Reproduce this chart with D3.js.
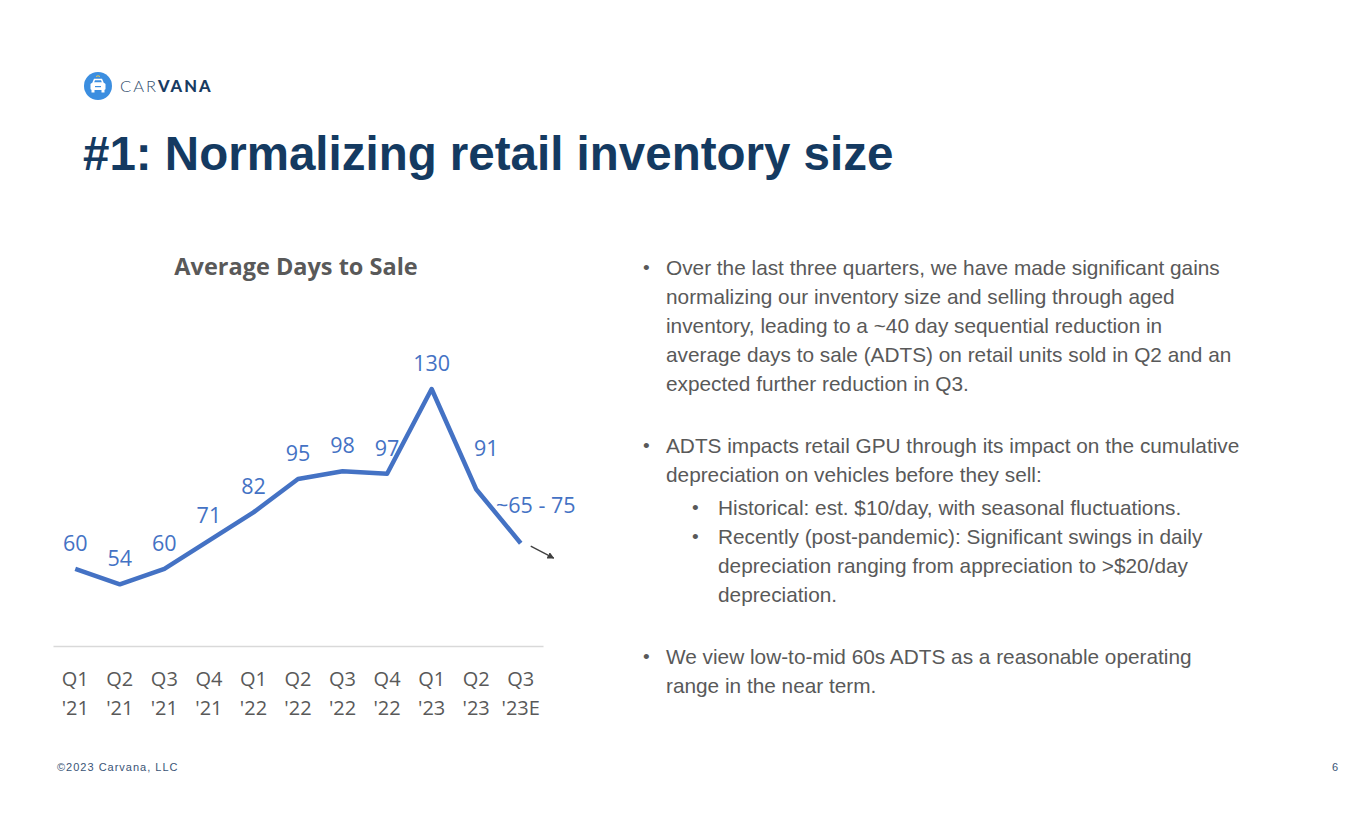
<!DOCTYPE html>
<html lang="en">
<head>
<meta charset="UTF-8">
<title>Average Days to Sale</title>
<script src="https://cdn.jsdelivr.net/npm/d3@7"></script>
<style>
  body { margin: 0; background: #fff; }
  svg { display: block; }
</style>
</head>
<body>
<script>
// data
var quarters = ["Q1", "Q2", "Q3", "Q4", "Q1", "Q2", "Q3", "Q4", "Q1", "Q2", "Q3"];
var years = ["'21", "'21", "'21", "'21", "'22", "'22", "'22", "'22", "'23", "'23", "'23E"];
var adts = [60, 54, 60, 71, 82, 95, 98, 97, 130, 91, 70];
var adtsLabels = ["60", "54", "60", "71", "82", "95", "98", "97", "130", "91", "~65 - 75"];

var bullets = [
  { level: 1, lines: ["Over the last three quarters, we have made significant gains",
    "normalizing our inventory size and selling through aged",
    "inventory, leading to a ~40 day sequential reduction in",
    "average days to sale (ADTS) on retail units sold in Q2 and an",
    "expected further reduction in Q3."] },
  { level: 1, lines: ["ADTS impacts retail GPU through its impact on the cumulative",
    "depreciation on vehicles before they sell:"] },
  { level: 2, lines: ["Historical: est. $10/day, with seasonal fluctuations."] },
  { level: 2, lines: ["Recently (post-pandemic): Significant swings in daily",
    "depreciation ranging from appreciation to >$20/day",
    "depreciation."] },
  { level: 1, lines: ["We view low-to-mid 60s ADTS as a reasonable operating",
    "range in the near term."] }
];

var width = 1365, height = 829;
var svg = d3.select("body").append("svg")
  .attr("width", width)
  .attr("height", height);

// logo
var logo = svg.append("g").attr("transform", "translate(98,86)");
logo.append("circle").attr("r", 14).attr("fill", "#3b8ee0");
logo.append("path")
  .attr("d", "M-5,-3 L-3.5,-6.5 L3.5,-6.5 L5,-3 Z")
  .attr("fill", "none").attr("stroke", "#fff").attr("stroke-width", 1.6);
logo.append("rect").attr("x", -7.5).attr("y", -3).attr("width", 15).attr("height", 7)
  .attr("rx", 1.5).attr("fill", "#fff");
logo.append("rect").attr("x", -6.5).attr("y", 4).attr("width", 3).attr("height", 2.5).attr("fill", "#fff");
logo.append("rect").attr("x", 3.5).attr("y", 4).attr("width", 3).attr("height", 2.5).attr("fill", "#fff");
logo.append("rect").attr("x", -3).attr("y", 0).attr("width", 6).attr("height", 1.2).attr("fill", "#3b8ee0");
logo.append("path").attr("d", "M-2,-9.5 Q0,-11 2,-9.5").attr("fill", "none")
  .attr("stroke", "#f3c84b").attr("stroke-width", 1);

var brand = svg.append("text")
  .attr("x", 120).attr("y", 92)
  .style("font-family", "Lato, 'Open Sans', sans-serif")
  .style("font-size", "16.5px")
  .style("letter-spacing", "2px");
brand.append("tspan").text("CAR").attr("fill", "#36506f").style("font-weight", 300);
brand.append("tspan").text("VANA").attr("fill", "#183b62").style("font-weight", 900);

// slide title
svg.append("text")
  .attr("x", 83).attr("y", 170)
  .attr("fill", "#143a61")
  .style("font-family", "'Liberation Sans', Arial, sans-serif")
  .style("font-weight", "bold")
  .style("font-size", "47.5px")
  .text("#1: Normalizing retail inventory size");

// chart
var x = d3.scaleBand().domain(d3.range(quarters.length)).range([53, 543]);
var y = d3.scaleLinear().domain([30, 130]).range([646, 389]);
var cx = function(i) { return x(i) + x.bandwidth() / 2; };

svg.append("text")
  .attr("x", 296).attr("y", 275)
  .attr("text-anchor", "middle")
  .attr("fill", "#595959")
  .style("font-family", "'Open Sans', sans-serif")
  .style("font-weight", "bold")
  .style("font-size", "23.5px")
  .text("Average Days to Sale");

var axis = svg.append("g")
  .attr("transform", "translate(0," + y(30) + ")")
  .call(d3.axisBottom(x).tickSize(0).tickFormat(""));
axis.select(".domain").attr("stroke", "#d9d9d9").attr("stroke-width", 1.5);

var tick = svg.append("g").selectAll("text")
  .data(quarters)
  .enter()
  .append("text")
  .attr("text-anchor", "middle")
  .attr("fill", "#595959")
  .style("font-family", "'Open Sans', sans-serif")
  .style("font-size", "20px");
tick.append("tspan").attr("x", function(d, i) { return cx(i); }).attr("y", 686)
  .text(function(d) { return d; });
tick.append("tspan").attr("x", function(d, i) { return cx(i); }).attr("y", 715)
  .text(function(d, i) { return years[i]; });

var line = d3.line()
  .x(function(d, i) { return cx(i); })
  .y(function(d) { return y(d); });

svg.append("path")
  .datum(adts)
  .attr("d", line)
  .attr("fill", "none")
  .attr("stroke", "#4472c4")
  .attr("stroke-width", 4.5)
  .attr("stroke-linejoin", "round");

// last two labels sit a bit off to the right
var shift = { 9: [10, -33], 10: [15, -30] };
svg.append("g").selectAll("text")
  .data(adts)
  .enter()
  .append("text")
  .attr("x", function(d, i) { return cx(i) + (shift[i] ? shift[i][0] : 0); })
  .attr("y", function(d, i) { return y(d) + (shift[i] ? shift[i][1] : -18); })
  .attr("text-anchor", "middle")
  .attr("fill", "#4472c4")
  .style("font-family", "'Open Sans', sans-serif")
  .style("font-size", "21.5px")
  .text(function(d, i) { return adtsLabels[i]; });

// trend arrow
svg.append("defs").append("marker")
  .attr("id", "head")
  .attr("viewBox", "0 0 10 10")
  .attr("refX", 9).attr("refY", 5)
  .attr("markerWidth", 7).attr("markerHeight", 7)
  .attr("markerUnits", "userSpaceOnUse")
  .attr("orient", "auto")
  .append("path").attr("d", "M0,0 L10,5 L0,10 Z").attr("fill", "#404040");
var last = adts.length - 1;
svg.append("line")
  .attr("x1", cx(last) + 10).attr("y1", y(adts[last]) + 3)
  .attr("x2", cx(last) + 33).attr("y2", y(adts[last]) + 15)
  .attr("stroke", "#404040").attr("stroke-width", 1.3)
  .attr("marker-end", "url(#head)");

// bullets
var lineY = 275, step = 29;
var txt = svg.append("g")
  .attr("fill", "#595959")
  .style("font-family", "'Liberation Sans', Arial, sans-serif")
  .style("font-size", "20.8px");
bullets.forEach(function(b, k) {
  if (k > 0 && b.level === 1) lineY += 33;
  if (k > 0 && b.level === 2 && bullets[k - 1].level === 1) lineY += 4;
  var bx = b.level === 1 ? 643 : 692;
  var tx = b.level === 1 ? 666 : 718;
  txt.append("text").attr("x", bx).attr("y", lineY - 1).text("•").style("font-size", "19px");
  b.lines.forEach(function(l) {
    txt.append("text").attr("x", tx).attr("y", lineY).text(l);
    lineY += step;
  });
});

// footer
svg.append("text").attr("x", 57).attr("y", 771)
  .attr("fill", "#3a5476")
  .style("font-family", "'Liberation Sans', Arial, sans-serif")
  .style("font-size", "11px")
  .style("letter-spacing", "1px")
  .text("©2023 Carvana, LLC");
svg.append("text").attr("x", 1338).attr("y", 771)
  .attr("text-anchor", "end")
  .attr("fill", "#3a5476")
  .style("font-family", "'Liberation Sans', Arial, sans-serif")
  .style("font-size", "11px")
  .text("6");
</script>
</body>
</html>
